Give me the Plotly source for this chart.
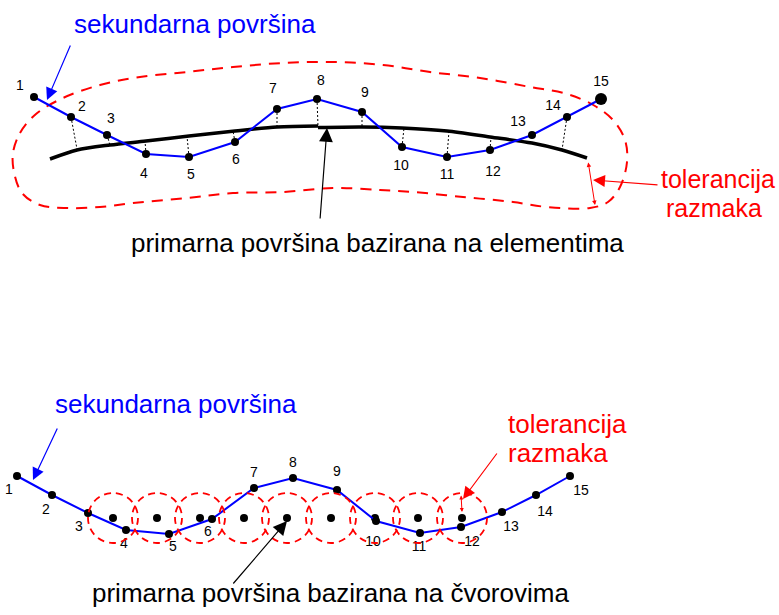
import plotly.graph_objects as go

FONT = "Liberation Sans, Arial, Helvetica, sans-serif"

# ---------------- top diagram (element based) ----------------
top_labels = [str(i) for i in range(1, 16)]
top_sec_x = [34, 71, 107, 146, 189, 235, 277, 317, 362, 402, 447, 490, 532, 567, 601]
top_sec_y = [97, 117, 135, 154, 157, 142, 109, 99, 112, 147, 157, 150, 135, 117, 99]
top_lab_x = [20, 82, 111, 144, 191, 236, 273, 321, 365, 401, 447, 493, 518, 553, 601]
top_lab_y = [86, 107, 119, 174, 175, 160, 89, 81, 93, 166, 175, 172, 122, 106, 82]

# primary surface (curve), two pieces with a small step at node 8
prim_left_x = [50, 77, 110, 146, 189, 235, 277, 318]
prim_left_y = [159, 150, 145, 141, 136, 131, 127, 126]
prim_right_x = [318, 362, 402, 447, 490, 532, 562, 587]
prim_right_y = [127.5, 127, 128, 131, 137, 143, 150, 158]

# projections of secondary nodes on the primary surface
proj_idx = [1, 2, 3, 4, 5, 6, 7, 8, 9, 10, 11, 13]
foot_x = [77, 110, 145, 187, 233, 277, 318, 362, 404, 449, 491, 562]
foot_y = [149, 145, 141, 136, 131, 127, 126, 127, 128, 131, 137, 150]

# tolerance envelope (closed)
tol_x = [13, 20, 36, 63, 100, 140, 187, 233, 283, 333, 383, 430, 480, 530, 567, 595,
         613, 625, 627, 620, 608, 590, 547, 513, 463, 413, 380, 333, 283, 233, 187,
         133, 100, 67, 40, 22, 14, 13]
tol_y = [153, 133, 114, 98, 85, 77, 72, 67, 63, 62, 65, 72, 78, 87, 94, 106,
         120, 140, 162, 187, 202, 208, 207, 202, 197, 192, 190, 188, 192, 193, 198,
         203, 207, 208, 205, 193, 172, 153]

# ---------------- bottom diagram (node based) ----------------
bot_sec_x = [17, 52, 88, 126, 169, 212, 254, 293, 337, 376, 420, 461, 502, 536, 570]
bot_sec_y = [476, 495, 513, 530, 534, 519, 488, 478, 490, 521, 533, 527, 512, 495, 476]
bot_lab_x = [9, 46, 79, 124, 173, 208, 254, 293, 337, 373, 419, 472, 511, 545, 581]
bot_lab_y = [490, 510, 527, 544, 547, 532, 473, 463, 472, 542, 547, 542, 527, 512, 491]

node_x = [113, 157, 200, 244, 287, 331, 375, 418, 462]
node_y = [518, 518, 518, 518, 518, 518, 518, 518, 518]
node_r = 25

fig = go.Figure()

# tolerance envelope
fig.add_trace(go.Scatter(x=tol_x, y=tol_y, mode="lines",
                         line=dict(color="#ff0000", width=2, dash="11px,8px",
                                   shape="spline", smoothing=1.0),
                         hoverinfo="skip"))

# projections (dotted)
px, py = [], []
for i, fx, fy in zip(proj_idx, foot_x, foot_y):
    px += [top_sec_x[i], fx, None]
    py += [top_sec_y[i], fy, None]
fig.add_trace(go.Scatter(x=px, y=py, mode="lines",
                         line=dict(color="black", width=1, dash="2px,2px"),
                         hoverinfo="skip"))

# primary curve
for xs, ys in ((prim_left_x, prim_left_y), (prim_right_x, prim_right_y)):
    fig.add_trace(go.Scatter(x=xs, y=ys, mode="lines",
                             line=dict(color="black", width=3.5, shape="spline", smoothing=0.8),
                             hoverinfo="skip"))

# secondary polyline top
sizes = [8] * 14 + [12]
fig.add_trace(go.Scatter(x=top_sec_x, y=top_sec_y, mode="lines",
                         line=dict(color="#0000ff", width=2), hoverinfo="skip"))
fig.add_trace(go.Scatter(x=top_sec_x, y=top_sec_y, mode="markers",
                         marker=dict(color="black", size=sizes, opacity=1,
                                     line=dict(width=0)),
                         hoverinfo="skip"))
fig.add_trace(go.Scatter(x=top_lab_x, y=top_lab_y, mode="text", text=top_labels,
                         textfont=dict(family=FONT, size=14, color="black"),
                         hoverinfo="skip"))

# bottom primary nodes + circles
shapes = []
for cx, cy in zip(node_x, node_y):
    shapes.append(dict(type="circle", xref="x", yref="y",
                       x0=cx - node_r, x1=cx + node_r, y0=cy - node_r, y1=cy + node_r,
                       line=dict(color="#ff0000", width=1.8, dash="7px,5px")))
fig.add_trace(go.Scatter(x=node_x, y=node_y, mode="markers",
                         marker=dict(color="black", size=8, opacity=1, line=dict(width=0)),
                         hoverinfo="skip"))

fig.add_trace(go.Scatter(x=bot_sec_x, y=bot_sec_y, mode="lines",
                         line=dict(color="#0000ff", width=2), hoverinfo="skip"))
fig.add_trace(go.Scatter(x=bot_sec_x, y=bot_sec_y, mode="markers",
                         marker=dict(color="black", size=8, opacity=1, line=dict(width=0)),
                         hoverinfo="skip"))
fig.add_trace(go.Scatter(x=bot_lab_x, y=bot_lab_y, mode="text", text=top_labels,
                         textfont=dict(family=FONT, size=14, color="black"),
                         hoverinfo="skip"))

ann = []
def text(t, x, y, color, size=26):
    ann.append(dict(text=t, x=x, y=y, xref="x", yref="y", showarrow=False,
                    xanchor="left", yanchor="middle",
                    font=dict(family=FONT, size=size, color=color)))

def arrow(x, y, ax, ay, color, head=2, size=2.0, width=1.2, side="end"):
    ann.append(dict(text="", x=x, y=y, ax=ax, ay=ay, xref="x", yref="y",
                    axref="x", ayref="y", showarrow=True, arrowhead=head,
                    startarrowhead=head, arrowside=side,
                    arrowsize=size, startarrowsize=size,
                    arrowwidth=width, arrowcolor=color))

# top texts & arrows
text("sekundarna površina", 72, 24, "#0000ff")
arrow(47, 100, 71, 44, "#0000ff")
text("primarna površina bazirana na elementima", 129, 243, "black")
arrow(327, 128, 320, 220, "black", size=2.3)
text("tolerancija", 659, 179, "#ff0000", size=25)
text("razmaka", 664, 208, "#ff0000", size=25)
arrow(593, 180, 659, 185, "#ff0000")
arrow(595, 205, 588, 161, "#ff0000", head=2, size=0.9, width=1, side="end+start")

# bottom texts & arrows
text("sekundarna površina", 53, 404, "#0000ff")
arrow(33, 480, 58, 427, "#0000ff")
text("tolerancija", 506, 424, "#ff0000")
text("razmaka", 506, 453, "#ff0000")
arrow(463, 499, 498, 452, "#ff0000")
arrow(462, 512, 461, 494, "#ff0000", head=2, size=0.8, width=1, side="end+start")
text("primarna površina bazirana na čvorovima", 90, 593, "black")
arrow(287, 521, 232, 585, "black", size=2.3)

fig.update_layout(
    width=779, height=615, margin=dict(l=0, r=0, t=0, b=0),
    paper_bgcolor="white", plot_bgcolor="white", showlegend=False,
    xaxis=dict(range=[0, 779], visible=False, fixedrange=True),
    yaxis=dict(range=[615, 0], visible=False, fixedrange=True),
    shapes=shapes, annotations=ann,
)

fig.write_html("out.html", config={"displayModeBar": False},
               post_script="document.body.style.margin='0';")
